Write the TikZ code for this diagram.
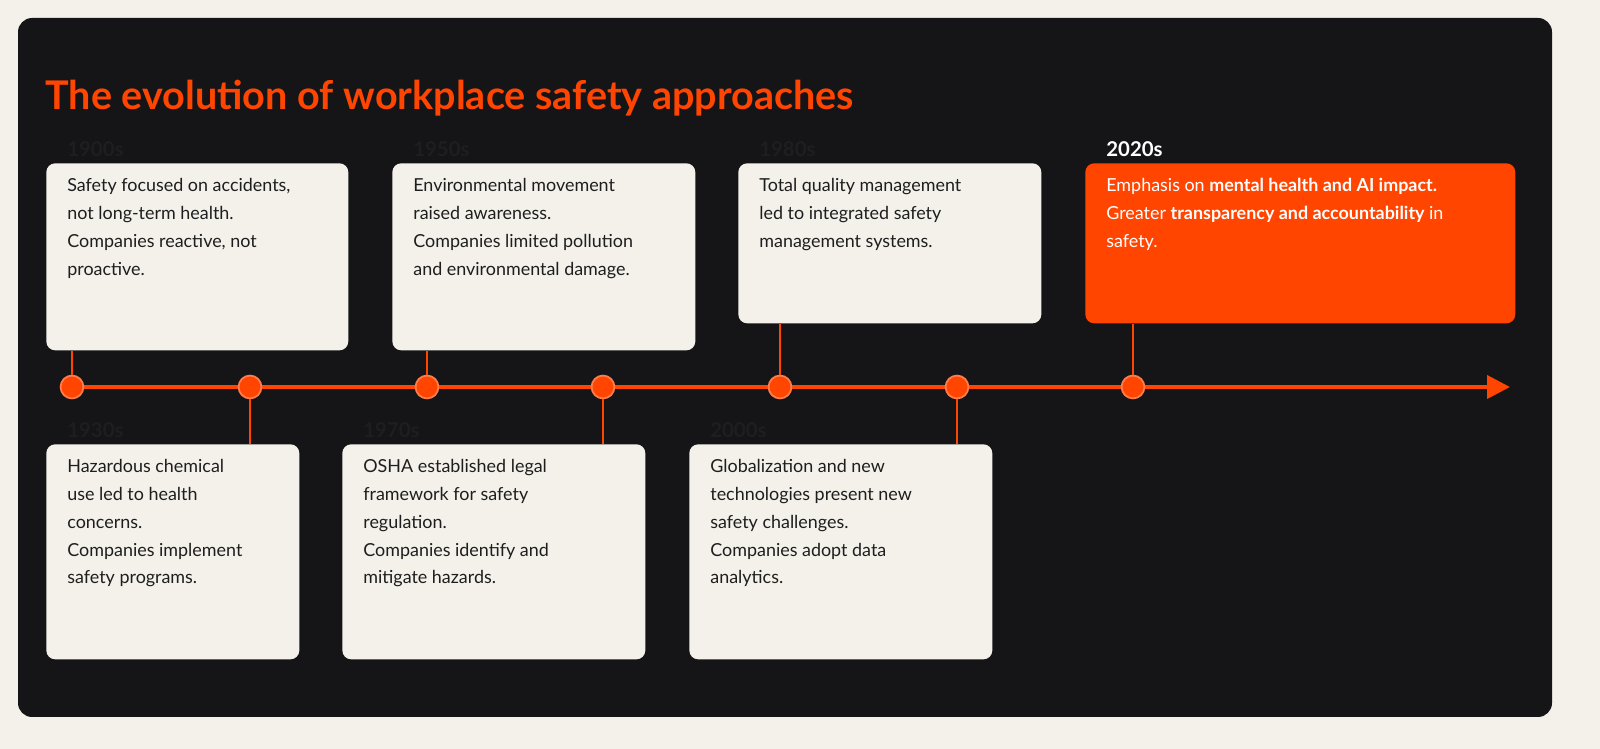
\documentclass[tikz,border=0pt]{standalone}
\usepackage{fontspec}
\setmainfont{Lato}
\usetikzlibrary{positioning,arrows.meta}
\definecolor{cream}{HTML}{F3F1EA}
\definecolor{panel}{HTML}{151518}
\definecolor{accent}{HTML}{FF4500}
\definecolor{ink}{HTML}{1E1E1E}
\tikzset{
	box/.style={rectangle,rounded corners=5pt,fill=cream,anchor=north west,inner sep=0pt},
	hot box/.style={box,fill=accent},
	txt/.style={anchor=north west,align=left,inner sep=0pt,text=ink,font=\fontsize{10.2}{15.9}\selectfont},
	dot/.style={circle,fill=accent,draw=accent!70!white,line width=1pt,minimum size=13pt,inner sep=0pt},
	stem/.style={draw=accent,line width=1pt}
}
\newcommand{\yr}[1]{{\fontsize{11.6}{14}\selectfont\bfseries #1}\\[4pt]}
\begin{document}
\begin{tikzpicture}[x=0.02cm,y=-0.02cm]
\useasboundingbox (0,0) rectangle (1600,749);
\fill[cream] (0,0) rectangle (1600,749);
\fill[panel,rounded corners=8pt] (18,18) rectangle (1552,717);
\node[anchor=base west,inner sep=0pt,text=accent,font=\fontsize{22.5}{26}\selectfont\bfseries] (title) at (45,110) {The evolution of workplace safety approaches};
% timeline
\draw[accent,line width=2.2pt,-{Triangle[length=13pt,width=13pt]}] (72,387) -- (1510,387);
\foreach \i/\x in {1/72,2/250,3/427,4/603,5/780,6/957,7/1133}
  \node[dot] (d\i) at (\x,387) {};
% top boxes
\node[box,minimum width=6.04cm,minimum height=3.74cm] (b1) at (46,163) {};
\node[box,minimum width=6.06cm,minimum height=3.74cm] (b3) at (392,163) {};
\node[box,minimum width=6.06cm,minimum height=3.2cm] (b5) at (738,163) {};
\node[hot box,minimum width=8.6cm,minimum height=3.2cm] (b7) at (1085,163) {};
% bottom boxes
\node[box,minimum width=5.06cm,minimum height=4.3cm] (b2) at (46,444) {};
\node[box,minimum width=6.06cm,minimum height=4.3cm] (b4) at (342,444) {};
\node[box,minimum width=6.06cm,minimum height=4.3cm] (b6) at (689,444) {};
% stems
\foreach \i in {1,3,5,7} \draw[stem] (b\i.south -| d\i) -- (d\i);
\foreach \i in {2,4,6} \draw[stem] (b\i.north -| d\i) -- (d\i);
% texts
\node[txt] at ([shift={(21,-22)}]b1.north west) {\yr{1900s}Safety focused on accidents,\\not long-term health.\\Companies reactive, not\\proactive.};
\node[txt] at ([shift={(21,-22)}]b3.north west) {\yr{1950s}Environmental movement\\raised awareness.\\Companies limited pollution\\and environmental damage.};
\node[txt] at ([shift={(21,-22)}]b5.north west) {\yr{1980s}Total quality management\\led to integrated safety\\management systems.};
\node[txt,text=white] at ([shift={(21,-22)}]b7.north west) {\yr{2020s}Emphasis on \textbf{mental health and AI impact.}\\Greater \textbf{transparency and accountability} in\\safety.};
\node[txt] at ([shift={(21,-22)}]b2.north west) {\yr{1930s}Hazardous chemical\\use led to health\\concerns.\\Companies implement\\safety programs.};
\node[txt] at ([shift={(21,-22)}]b4.north west) {\yr{1970s}OSHA established legal\\framework for safety\\regulation.\\Companies identify and\\mitigate hazards.};
\node[txt] at ([shift={(21,-22)}]b6.north west) {\yr{2000s}Globalization and new\\technologies present new\\safety challenges.\\Companies adopt data\\analytics.};
\end{tikzpicture}
\end{document}
